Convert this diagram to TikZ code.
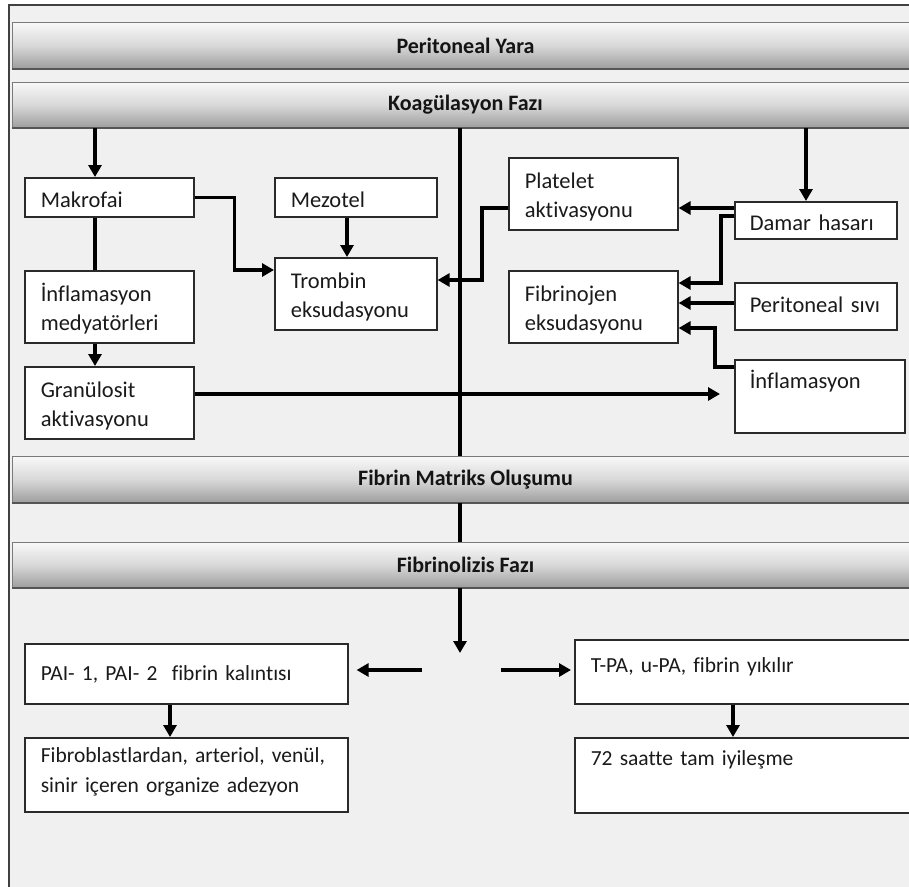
\documentclass[tikz,border=0pt]{standalone}
\usepackage{fontspec}
\setmainfont{Carlito}[Ligatures={NoCommon}]
\usetikzlibrary{arrows.meta,calc}
\definecolor{bgc}{HTML}{F0F0F0}
\definecolor{framec}{HTML}{404040}
\definecolor{boxc}{HTML}{2A2A2A}
\definecolor{bandtop}{HTML}{F8F8F8}
\definecolor{bandmid}{HTML}{D8D8D8}
\definecolor{bandbot}{HTML}{9E9E9E}
\definecolor{bandline}{HTML}{7A7A7A}
\definecolor{bandedge}{HTML}{555555}
\definecolor{txtc}{HTML}{1A1A1A}
\newcommand\upst[1]{\rule{0pt}{#1pt}}
\newcommand\dnst[1]{\rule[-#1pt]{0pt}{#1pt}}
\begin{document}
\begin{tikzpicture}[x=1pt,y=-1pt,
  box/.style={draw=boxc, line width=1.6pt, fill=white, anchor=north west,
    inner xsep=16pt, inner ysep=0pt, align=left, text=txtc,
    font=\fontsize{22.5}{29.5}\selectfont},
  boxb/.style={box, font=\fontsize{21.5}{30}\selectfont},
  band/.style={draw=bandline, line width=1pt, top color=bandtop,
    bottom color=bandbot, middle color=bandmid, anchor=north west,
    minimum width=906pt, inner sep=0pt, text=black!92,
    font=\bfseries\fontsize{22}{26}\selectfont},
  arr/.style={line width=3.5pt, -{Triangle[length=12pt,width=13pt]}},
  ln/.style={line width=3.5pt},
  bedge/.style={draw=bandedge, line width=2pt},
]
\useasboundingbox (0,0) rectangle (909,886);
\clip (0,0) rectangle (909,886);
\fill[white] (0,0) rectangle (909,886);
\draw[framec, line width=1.5pt, fill=bgc] (9,5) rectangle (940,900);

% bands
\node[band, minimum height=46pt] (peri) at (12,22) {Peritoneal Yara};
\node[band, minimum height=45pt] (koag) at (12,82) {Koagülasyon Fazı};
\node[band, minimum height=46pt] (fibm) at (12,456) {Fibrin Matriks Oluşumu};
\node[band, minimum height=45pt] (fibl) at (12,542) {Fibrinolizis Fazı};
\foreach \b in {peri,koag,fibm,fibl}{
  \draw[bedge] (\b.south west) -- (\b.south east);
}

% coagulation boxes
\node[box, text width=137pt, minimum height=39pt] (mak) at (24,177) {\upst{21}Makrofai};
\node[box, text width=130pt, minimum height=39pt] (mez) at (274,177) {\upst{21}Mezotel};
\node[box, text width=130pt, minimum height=72pt] (trom) at (274,257) {\upst{23.5}Trombin\\eksudasyonu\dnst{5}};
\node[box, text width=137pt, minimum height=72pt] (medy) at (24,270) {\upst{23.5}İnflamasyon\\medyatörleri\dnst{5}};
\node[box, text width=137pt, minimum height=72pt] (gran) at (24,366) {\upst{23.5}Granülosit\\aktivasyonu\dnst{5}};
\node[box, text width=137pt, minimum height=72pt] (plat) at (508,157) {\upst{23.5}Platelet\\aktivasyonu\dnst{5}};
\node[box, text width=137pt, minimum height=72pt] (fib) at (508,270) {\upst{23.5}Fibrinojen\\eksudasyonu\dnst{5}};
\node[box, text width=132pt, inner xsep=15pt, minimum height=37pt] (dam) at (734,201) {\upst{21}Damar hasarı};
\node[box, text width=132pt, inner xsep=15pt, minimum height=47pt] (per) at (734,282) {\upst{17.4}Peritoneal sıvı\dnst{5}};
\node[box, text width=140pt, inner xsep=15pt, minimum height=73pt] (infl) at (734,359) {\upst{17.5}İnflamasyon\\\dnst{5}};

% fibrinolysis boxes
\node[boxb, text width=291pt, minimum height=60pt] (pai) at (24,643) {\upst{16}PAI- 1, PAI- 2\ \ fibrin kalıntısı\dnst{2}};
\node[boxb, text width=324pt, minimum height=64pt] (tpa) at (574,639) {\upst{16}T-PA, u-PA, fibrin yıkılır\dnst{14}};
\node[boxb, text width=291pt, minimum height=74pt] (fibro) at (24,737) {\upst{16}Fibroblastlardan, arteriol, venül,\\sinir içeren organize adezyon\dnst{10}};
\node[boxb, text width=324pt, minimum height=75pt] (s72) at (574,737) {\upst{16}72 saatte tam iyileşme\\\dnst{5}};

% central spine
\coordinate (cx) at (460,0);
\draw[ln] (koag.south -| cx) -- (fibm.north -| cx);
\draw[ln] (fibm.south -| cx) -- (fibl.north -| cx);
\coordinate (split) at (460,653);
\draw[arr] (fibl.south -| cx) -- (split);

% left column
\coordinate (mk) at ($(mak.north west)+(71,0)$);
\draw[arr] (koag.south -| mk) -- (mk);
\draw[ln] ($(mak.south west)+(71,0)$) -- ($(medy.north west)+(71,0)$);
\draw[arr] ($(medy.south west)+(71,0)$) -- ($(gran.north west)+(71,0)$);
\draw[arr] (mak.east) -- ++(40,0) |- ($(trom.north west)+(0,13)$);
\draw[arr] ($(mez.south west)+(73,0)$) -- ($(trom.north west)+(73,0)$);
\draw[arr] ($(gran.north east)+(0,28)$) -- ($(infl.north west)+(-14,35)$);

% right column
\coordinate (dk) at ($(dam.north west)+(72,0)$);
\draw[arr] (koag.south -| dk) -- (dk);
\draw[arr] ($(plat.north west)+(0,51)$) -- ++(-26,0) |- ($(trom.north east)+(0,23)$);
\draw[arr] ($(dam.north west)+(0,7)$) -- ($(plat.north east)+(0,51)$);
\draw[arr] ($(dam.north west)+(0,15)$) -- ++(-13,0) |- ($(fib.north east)+(0,13)$);
\coordinate (pk) at ($(per.north west)+(0,21)$);
\draw[arr] (pk) -- (fib.east |- pk);
\draw[arr] ($(infl.north west)+(0,8)$) -- ++(-19,0) |- ($(fib.north east)+(0,58)$);

% fibrinolysis arrows
\coordinate (la) at (422,670);
\draw[arr] (la) -- ($(pai.east |- la)+(8,0)$);
\coordinate (ra) at (501,670);
\draw[arr] (ra) -- ($(tpa.west |- ra)+(-3,0)$);
\draw[arr] ($(pai.south west)+(146,0)$) -- ($(fibro.north west)+(146,0)$);
\draw[arr] ($(tpa.south west)+(159,0)$) -- ($(s72.north west)+(159,0)$);
\end{tikzpicture}
\end{document}
